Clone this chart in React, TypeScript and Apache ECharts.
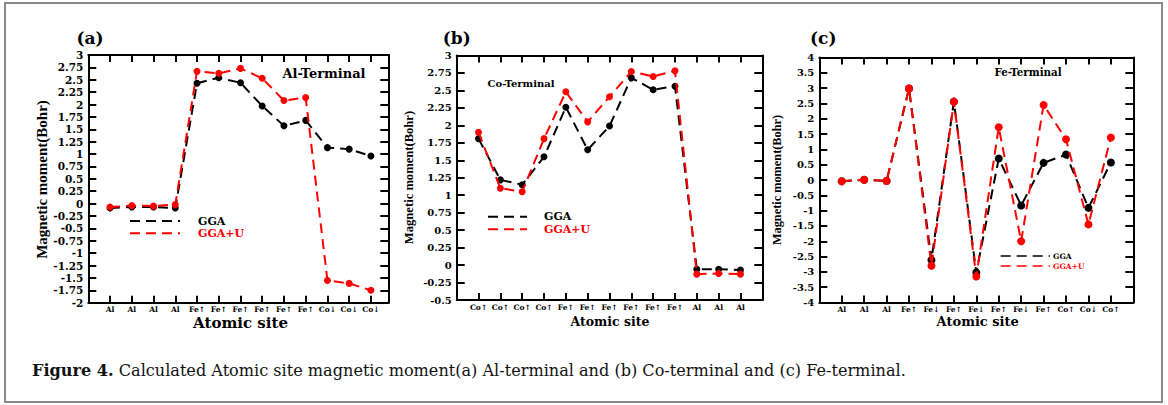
import React, { useEffect, useRef } from "react";
import * as echarts from "echarts";

// ---------- data ----------
const labelsA = ["Al", "Al", "Al", "Al", "Fe↑", "Fe↑", "Fe↑", "Fe↑", "Fe↑", "Fe↑", "Co↓", "Co↓", "Co↓"];
const ggaA = [-0.09, -0.07, -0.07, -0.09, 2.43, 2.54, 2.44, 1.97, 1.57, 1.68, 1.13, 1.1, 0.96];
const ggauA = [-0.07, -0.04, -0.05, -0.02, 2.67, 2.63, 2.73, 2.53, 2.08, 2.14, -1.55, -1.61, -1.75];

const labelsB = ["Co↑", "Co↑", "Co↑", "Co↑", "Fe↑", "Fe↑", "Fe↑", "Fe↑", "Fe↑", "Fe↑", "Al", "Al", "Al"];
const ggaB = [1.81, 1.22, 1.15, 1.55, 2.26, 1.65, 1.99, 2.68, 2.51, 2.56, -0.06, -0.06, -0.07];
const ggauB = [1.9, 1.1, 1.05, 1.81, 2.48, 2.05, 2.41, 2.77, 2.7, 2.78, -0.13, -0.12, -0.13];

const labelsC = ["Al", "Al", "Al", "Fe↑", "Fe↓", "Fe↑", "Fe↓", "Fe↑", "Fe↓", "Fe↑", "Co↑", "Co↓", "Co↑"];
const ggaC = [-0.04, 0.01, -0.03, 2.99, -2.61, 2.56, -3.02, 0.7, -0.83, 0.56, 0.83, -0.91, 0.57];
const ggauC = [-0.04, 0.01, -0.03, 2.99, -2.8, 2.56, -3.15, 1.72, -2.0, 2.45, 1.33, -1.45, 1.39];

const seriesNames = ["GGA", "GGA+U"];
const panelTitles = ["(a)", "(b)", "(c)"];
const terminalNames = ["Al-Terminal", "Co-Terminal", "Fe-Terminal"];
const yAxisTitle = "Magnetic moment(Bohr)";
const xAxisTitle = "Atomic site";
const captionBold = "Figure 4.";
const captionText = " Calculated Atomic site magnetic moment(a) Al-terminal and (b) Co-terminal and (c) Fe-terminal.";

// ---------- helpers ----------
const SERIF = "DejaVu Serif";
const TIMES = "Liberation Serif";
const RED = "#ff0000";
const DASH = [10, 6];

function xAxesFor(gi: number, labels: string[], max: number) {
  const vals = labels.map((_, i) => i);
  const common = {
    type: "value",
    gridIndex: gi,
    min: -1,
    max,
    interval: 1,
    splitLine: { show: false },
    axisLine: { show: true, onZero: false, lineStyle: { color: "#000", width: 2 } },
    axisTick: { show: true, inside: true, length: 7, customValues: vals, lineStyle: { color: "#000", width: 2 } },
  };
  return [
    {
      ...common,
      position: "bottom",
      axisLabel: {
        show: true,
        customValues: vals,
        margin: 3,
        formatter: (v: number) => labels[Math.round(v)] ?? "",
        fontFamily: SERIF,
        fontWeight: "bold",
        fontSize: 7.5,
        color: "#000",
      },
    },
    { ...common, position: "top", axisLabel: { show: false } },
  ];
}

function yAxesFor(gi: number, min: number, max: number, interval: number, fs: number) {
  const common = {
    type: "value",
    gridIndex: gi,
    min,
    max,
    interval,
    splitLine: { show: false },
    axisLine: { show: true, onZero: false, lineStyle: { color: "#000", width: 2 } },
    axisTick: { show: true, inside: true, length: 8, lineStyle: { color: "#000", width: 2 } },
  };
  return [
    {
      ...common,
      position: "left",
      axisLabel: { show: true, margin: 5, fontFamily: SERIF, fontWeight: "bold", fontSize: fs, color: "#000" },
    },
    { ...common, position: "right", axisLabel: { show: false } },
  ];
}

function seriesFor(gi: number, gga: number[], ggau: number[], size: number) {
  return [
    {
      name: seriesNames[0],
      type: "line",
      xAxisIndex: 2 * gi,
      yAxisIndex: 2 * gi,
      data: gga.map((v, i) => [i, v]),
      symbol: "circle",
      symbolSize: size,
      showSymbol: true,
      lineStyle: { color: "#000", width: 2, type: DASH },
      itemStyle: { color: "#000" },
      z: 3,
    },
    {
      name: seriesNames[1],
      type: "line",
      xAxisIndex: 2 * gi,
      yAxisIndex: 2 * gi,
      data: ggau.map((v, i) => [i, v]),
      symbol: "circle",
      symbolSize: size,
      showSymbol: true,
      lineStyle: { color: RED, width: 2, type: DASH },
      itemStyle: { color: RED },
      z: 4,
    },
  ];
}

function legendFor(x1: number, x2: number, y1: number, y2: number, tx: number, fs: number, lw: number) {
  return [
    { type: "line", shape: { x1, y1, x2, y2: y1 }, style: { stroke: "#000", lineWidth: lw, lineDash: DASH } },
    { type: "line", shape: { x1, y1: y2, x2, y2 }, style: { stroke: RED, lineWidth: lw, lineDash: DASH } },
    { type: "text", x: tx, y: y1, style: { text: seriesNames[0], fill: "#000", font: `bold ${fs}px "${SERIF}"`, textVerticalAlign: "middle" } },
    { type: "text", x: tx, y: y2, style: { text: seriesNames[1], fill: RED, font: `bold ${fs}px "${SERIF}"`, textVerticalAlign: "middle" } },
  ];
}

function centerText(text: string, x: number, y: number, font: string, rotation = 0, fill = "#000") {
  return { type: "text", x, y, rotation, style: { text, fill, font, textAlign: "center", textVerticalAlign: "middle" } };
}

export default function App() {
  const ref = useRef<HTMLDivElement>(null);

  useEffect(() => {
    if (!ref.current) return;
    const chart = echarts.init(ref.current, null, { renderer: "svg" });
    const option: any = {
      animation: false,
      backgroundColor: "#fff",
      grid: [
        { left: 88.3, top: 55, width: 300, height: 247.7 },
        { left: 456.7, top: 55.5, width: 305.6, height: 244.5 },
        { left: 819.3, top: 57.5, width: 314, height: 245 },
      ],
      xAxis: [...xAxesFor(0, labelsA, 12.8), ...xAxesFor(1, labelsB, 13), ...xAxesFor(2, labelsC, 13)],
      yAxis: [...yAxesFor(0, -2, 3, 0.25, 10.5), ...yAxesFor(1, -0.5, 3, 0.25, 10), ...yAxesFor(2, -4, 4, 0.5, 10)],
      series: [...seriesFor(0, ggaA, ggauA, 7), ...seriesFor(1, ggaB, ggauB, 7), ...seriesFor(2, ggaC, ggauC, 8)],
      graphic: [
        { type: "rect", shape: { x: 5, y: 3, width: 1157, height: 399 }, style: { fill: "none", stroke: "#8a8a8a", lineWidth: 2 } },
        centerText(panelTitles[0], 90, 38, `bold 17px "${SERIF}"`),
        centerText(panelTitles[1], 456.7, 38, `bold 17px "${SERIF}"`),
        centerText(panelTitles[2], 823.3, 38, `bold 17px "${SERIF}"`),
        centerText(terminalNames[0], 324, 73, `bold 13px "${SERIF}"`),
        centerText(terminalNames[1], 521, 83.3, `bold 10px "${SERIF}"`),
        centerText(terminalNames[2], 1028, 72.3, `bold 10.3px "${SERIF}"`),
        centerText(yAxisTitle, 41.7, 179.5, `bold 15px "${TIMES}"`, Math.PI / 2),
        centerText(yAxisTitle, 409, 177.5, `bold 12.6px "${TIMES}"`, Math.PI / 2),
        centerText(yAxisTitle, 777, 180, `bold 12.3px "${TIMES}"`, Math.PI / 2),
        centerText(xAxisTitle, 240.5, 323, `bold 15px "${SERIF}"`),
        centerText(xAxisTitle, 610, 321.7, `bold 12.5px "${SERIF}"`),
        centerText(xAxisTitle, 977.7, 321.7, `bold 13px "${SERIF}"`),
        ...legendFor(130, 180, 221, 233.3, 198, 11, 2),
        ...legendFor(488, 527, 216.7, 229.3, 544, 11, 2),
        ...legendFor(1000.7, 1050, 256, 266, 1053, 7.5, 1.6),
        {
          type: "text",
          x: 32,
          y: 370,
          style: {
            text: `{b|${captionBold}}{r|${captionText}}`,
            textVerticalAlign: "middle",
            rich: {
              b: { fontFamily: SERIF, fontWeight: "bold", fontSize: 16.1, fill: "#111", color: "#111" },
              r: { fontFamily: SERIF, fontWeight: "normal", fontSize: 16.1, fill: "#111", color: "#111" },
            },
          },
        },
      ],
    };
    chart.setOption(option);
    return () => chart.dispose();
  }, []);

  return <div ref={ref} style={{ position: "absolute", left: 0, top: 0, width: 1168, height: 405 }} />;
}
